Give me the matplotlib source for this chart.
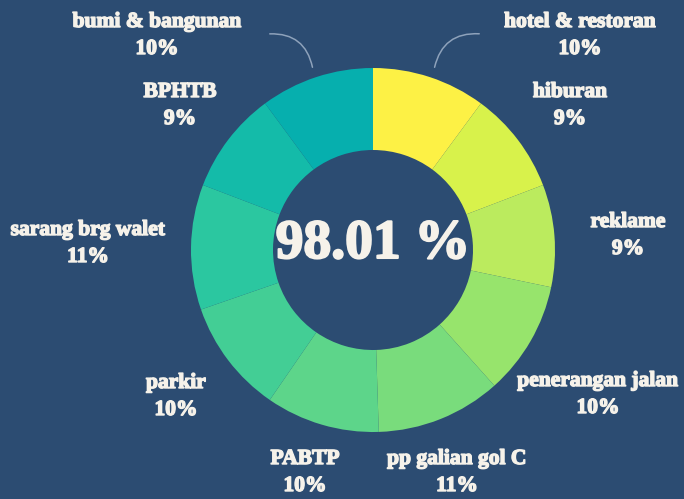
import matplotlib
matplotlib.use("Agg")
import matplotlib.pyplot as plt
from matplotlib.patches import FancyArrowPatch
import matplotlib.patheffects as pe

# Tax revenue share by category
categories = ["hotel & restoran", "hiburan", "reklame", "penerangan jalan",
              "pp galian gol C", "PABTP", "parkir", "sarang brg walet",
              "BPHTB", "bumi & bangunan"]
shares = [10, 9, 9, 10, 11, 10, 10, 11, 9, 10]
total_label = "98.01 %"

colors = ["#fdf145", "#d8f24b", "#bbeb5e", "#97e46c", "#79dc7c",
          "#5dd58a", "#43ce95", "#2bc7a0", "#14bba9", "#06afae"]

BG = "#2c4c72"
TXT = "#f6f2ea"
W, H = 684, 499

# label anchor positions (pixel coords from top-left) for name / value lines
label_pos = [(580, 22), (570, 92), (628, 222), (598, 381), (457, 459),
             (305, 459), (176, 383), (88, 230), (180, 92), (157, 22)]

fig = plt.figure(figsize=(W / 100, H / 100), dpi=100, facecolor=BG)
ax = fig.add_axes([0, 0, 1, 1])
ax.set_facecolor(BG)

cx, cy, r_out, r_in = 373, 249, 182, 100
ax.pie(shares, colors=colors, startangle=90, counterclock=False,
       radius=r_out, center=(cx, cy),
       wedgeprops=dict(width=r_out - r_in, edgecolor="none", linewidth=0))

ax.set_xlim(0, W)
ax.set_ylim(0, H)
ax.set_aspect("equal")
ax.axis("off")

heavy = [pe.withStroke(linewidth=1.0, foreground=TXT)]
font = dict(family="Liberation Serif", weight="bold", color=TXT,
            path_effects=heavy)

for name, val, (x, y) in zip(categories, shares, label_pos):
    ax.text(x, H - y, name, ha="center", va="center", fontsize=15.5, **font)
    ax.text(x, H - (y + 27), f"{val}%", ha="center", va="center",
            fontsize=15.5, **font)

ax.text(cx, H - 244, total_label, ha="center", va="center",
        fontsize=40, family="Liberation Serif", weight="bold", color=TXT,
        path_effects=[pe.withStroke(linewidth=1.5, foreground=TXT)])

# thin leader arcs to the top labels
for (x0, y0), (x1, y1), rad in [((267, 34), (313, 70), -0.45),
                                ((482, 34), (434, 70), 0.45)]:
    ax.add_patch(FancyArrowPatch((x0, H - y0), (x1, H - y1),
                                 connectionstyle=f"arc3,rad={rad}",
                                 arrowstyle="-", color="#8ea2bb", lw=1.1))

fig.savefig("out.png", dpi=100, facecolor=BG)
